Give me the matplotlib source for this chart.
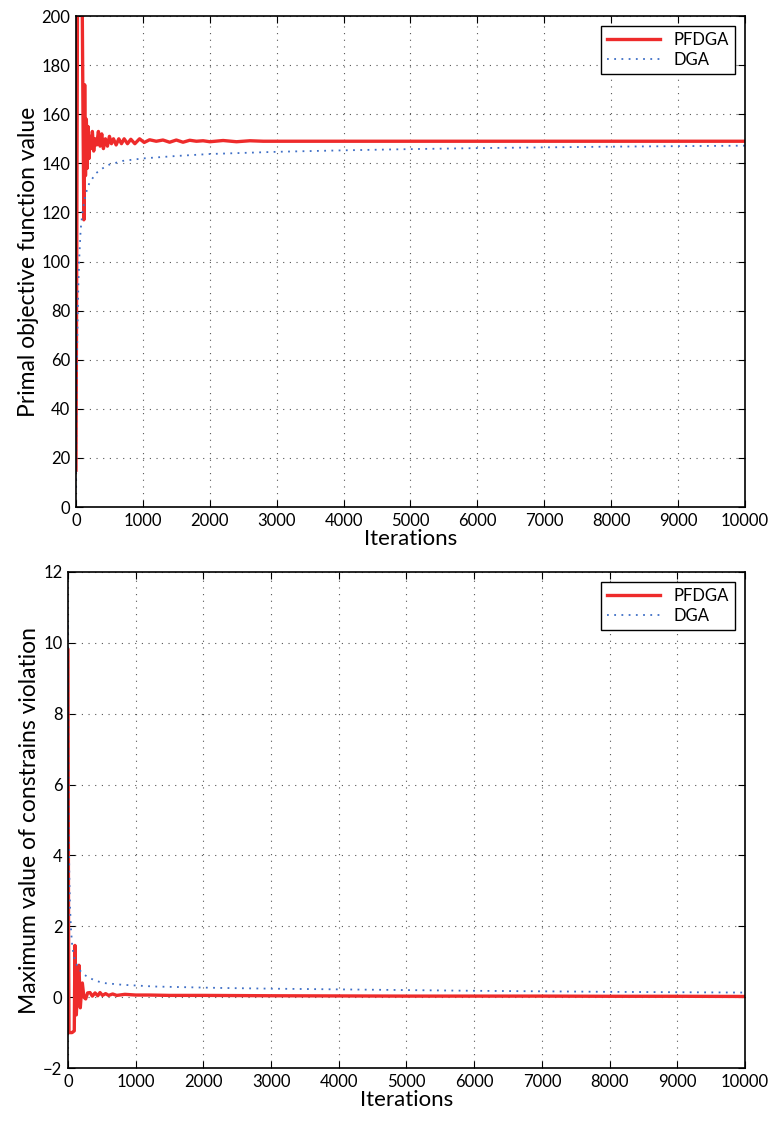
import matplotlib
matplotlib.use('Agg')

import matplotlib.pyplot as plt

plt.rcParams['font.family'] = ['Lato', 'DejaVu Sans']

# --- primal objective value (top panel) ---
pf_top_iter = [0, 10, 25, 40, 70, 92, 105, 118, 130, 142, 155, 168, 180, 195, 210, 225,
               245, 265, 285, 310, 335, 360, 385, 410, 440, 470, 500, 530, 560, 600,
               640, 680, 720, 770, 820, 880, 950, 1020, 1100, 1200, 1300, 1400, 1500,
               1600, 1700, 1800, 1900, 2000, 2200, 2400, 2600, 2800, 3000, 3500, 4000,
               5000, 6000, 7000, 8000, 9000, 10000]
pf_top_val = [15, 90, 230, 240, 235, 210, 160, 117, 172, 135, 158, 138, 155, 142, 151, 146,
              153, 145, 150, 147.5, 153, 147, 152, 146, 150, 147, 151, 148, 150, 147.5,
              150, 148, 150, 148, 149.8, 148, 150, 148.5, 149.6, 149, 149.5, 148.6, 149.5,
              148.6, 149.4, 149, 149.2, 148.8, 149.3, 148.8, 149.2, 149, 149, 149, 149,
              149, 149, 149, 149, 149, 149]

dga_top_iter = [0, 5, 10, 20, 35, 50, 70, 100, 150, 200, 300, 400, 500, 700, 1000, 1500,
                2000, 3000, 4000, 5000, 6000, 7000, 8000, 9000, 10000]
dga_top_val = [8, 30, 50, 70, 90, 102, 113, 121, 128, 132, 136, 138, 139.5, 141, 142, 143,
               143.8, 144.7, 145.3, 145.8, 146.2, 146.5, 146.8, 147, 147.2]

# --- max constraint violation (bottom panel) ---
pf_bot_iter = [0, 8, 15, 60, 93, 103, 113, 123, 140, 162, 182, 200, 212, 235, 261, 290,
               325, 360, 400, 440, 473, 510, 556, 600, 660, 720, 840, 1000, 1200, 1500,
               2000, 3000, 4000, 5000, 6000, 7000, 8000, 9000, 10000]
pf_bot_val = [9.8, 2.0, -1.0, -1.0, -0.95, 1.46, 0.6, -0.5, 0.3, 0.9, -0.3, 0.2, 0.4, 0.0,
              -0.05, 0.12, 0.13, 0.03, 0.12, 0.04, 0.13, 0.05, 0.1, 0.05, 0.09, 0.05, 0.08,
              0.06, 0.06, 0.05, 0.05, 0.04, 0.035, 0.03, 0.03, 0.03, 0.025, 0.025, 0.02]

dga_bot_iter = [0, 5, 10, 20, 30, 45, 64, 100, 152, 220, 300, 400, 522, 800, 1285, 2260,
                3000, 4000, 5000, 6000, 7000, 8000, 9000, 10000]
dga_bot_val = [10.5, 7.0, 5.0, 3.4, 2.54, 1.9, 1.41, 1.05, 0.81, 0.66, 0.56, 0.47, 0.40,
               0.35, 0.30, 0.26, 0.24, 0.22, 0.2, 0.18, 0.165, 0.15, 0.14, 0.13]

x_ticks = list(range(0, 10001, 1000))
top_yticks = list(range(0, 201, 20))
bot_yticks = list(range(-2, 13, 2))

red = '#ee2b2b'
blue = '#3f6fc6'


def style_axes(ax):
    ax.grid(True, color='#555555', linestyle=(0, (1, 5)), linewidth=0.8)
    ax.tick_params(direction='in', top=True, right=True, length=5, width=0.8,
                   labelsize=12, pad=4)
    for sp in ax.spines.values():
        sp.set_linewidth(1.2)
    ax.set_xlim(0, 10000)
    ax.set_xticks(x_ticks)
    ax.set_xlabel('Iterations', fontsize=16, labelpad=0)


def add_legend(ax):
    leg = ax.legend(loc='upper right', fontsize=12, fancybox=False, framealpha=1,
                    edgecolor='black', borderaxespad=0.6, handlelength=3.2,
                    borderpad=0.35, labelspacing=0.25)
    leg.get_frame().set_linewidth(1.0)


fig = plt.figure(figsize=(7.69, 11.22), dpi=100)

ax1 = fig.add_axes([0.0988, 0.5481, 0.870, 0.4376])
ax1.plot(pf_top_iter, pf_top_val, color=red, lw=2.4, label='PFDGA')
ax1.plot(dga_top_iter, dga_top_val, color=blue, lw=1.3, linestyle=(0, (1, 3)), label='DGA')
ax1.set_ylim(0, 200)
ax1.set_yticks(top_yticks)
ax1.set_ylabel('Primal objective function value', fontsize=16.5, labelpad=2)
style_axes(ax1)
add_legend(ax1)

ax2 = fig.add_axes([0.0884, 0.0481, 0.8804, 0.4421])
ax2.plot(pf_bot_iter, pf_bot_val, color=red, lw=2.4, label='PFDGA')
ax2.plot(dga_bot_iter, dga_bot_val, color=blue, lw=1.3, linestyle=(0, (1, 3)), label='DGA')
ax2.set_ylim(-2, 12)
ax2.set_yticks(bot_yticks)
ax2.set_ylabel('Maximum value of constrains violation', fontsize=16.5, labelpad=2)
style_axes(ax2)
add_legend(ax2)

fig.savefig('out.png', dpi=100)
plt.close(fig)
